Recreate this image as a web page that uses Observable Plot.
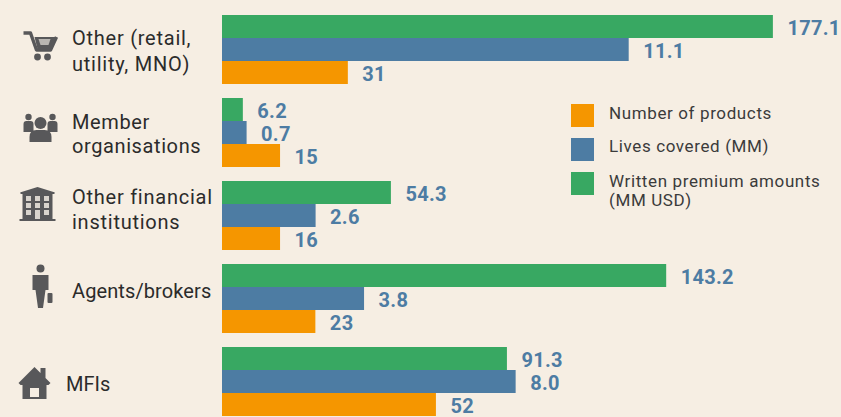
<!DOCTYPE html>
<html>
<head>
<meta charset="utf-8">
<script src="https://cdn.jsdelivr.net/npm/d3@7"></script>
<script src="https://cdn.jsdelivr.net/npm/@observablehq/plot@0.6"></script>
<style>
  html, body { margin: 0; padding: 0; background: #f6eee3; }
  #chart { position: relative; width: 841px; height: 417px; overflow: hidden; font-family: Roboto, sans-serif; }
  #chart svg { display: block; background: transparent; }
  .key { position: absolute; left: 571px; width: 23px; height: 23px; }
  .keytext { position: absolute; left: 609px; font-size: 17px; line-height: 19px; letter-spacing: .62px; color: #3b3b3b; white-space: nowrap; }
  .sp-value { letter-spacing: .3px; }
  .sp-a { letter-spacing: .75px; }
  .sp-b { letter-spacing: .6px; }
  .sp-c { letter-spacing: .75px; }
  .sp-d { letter-spacing: .1px; }
  .sp-e { letter-spacing: .05px; }
</style>
</head>
<body>
<div id="chart"></div>
<script>
const categories = ["Other (retail,\nutility, MNO)", "Member\norganisations", "Other financial\ninstitutions", "Agents/brokers", "MFIs"];
const seriesNames = ["Written premium amounts (MM USD)", "Lives covered (MM)", "Number of products"];
const seriesColors = ["#38a862", "#4d7ca3", "#f59600"];
const premiumLabels = ["177.1", "6.2", "54.3", "143.2", "91.3"];
const livesLabels = ["11.1", "0.7", "2.6", "3.8", "8.0"];
const productsLabels = ["31", "15", "16", "23", "52"];
// The source draws each series to its own scale and not quite to its printed value,
// so the bar lengths are read from the picture, per series.
const premium = [177.1, 6.7, 54.3, 142.8, 91.6];
const lives = [11.08, 0.67, 2.55, 3.87, 8.0];
const products = [31, 14.3, 14.3, 23, 52.7];
const livesToPremium = 11.8;
const productsToPremium = 1.305;

const rows = categories.flatMap((category, i) => [
  {category, series: seriesNames[0], length: premium[i], label: premiumLabels[i]},
  {category, series: seriesNames[1], length: lives[i] * livesToPremium, label: livesLabels[i]},
  {category, series: seriesNames[2], length: products[i] * productsToPremium, label: productsLabels[i]}
]);

const grey = "#58585a";
const svgIcon = body => "data:image/svg+xml," + encodeURIComponent(
  `<svg xmlns="http://www.w3.org/2000/svg" width="48" height="48" viewBox="0 0 48 48" fill="${grey}">${body}</svg>`);
const cart = svgIcon(`<path d="M7 11h7l6 17h14l6-13" fill="none" stroke="${grey}" stroke-width="3.400" stroke-linejoin="round"/><path d="M18 15h22l-5 12H21z" fill="${grey}"/><path d="M22 17h12l-2 6H24z" fill="#b9b6b2"/><circle cx="21" cy="35" r="3.400"/><circle cx="31" cy="35" r="3.400"/>`);
const people = svgIcon(`<circle cx="12" cy="14" r="3.200"/><circle cx="36" cy="14" r="3.200"/><path d="M7 29v-8q0-3 3-3h4q3 0 3 3v8zM31 29v-8q0-3 3-3h4q3 0 3 3v8z"/><circle cx="24" cy="20" r="6"/><path d="M13 39v-5q0-7 7-7h8q7 0 7 7v5z"/>`);
const bank = svgIcon(`<path d="M7 12h34v2H7zM8 12l16-5 16 5z"/><rect x="9" y="13" width="30" height="26"/><rect x="6" y="39" width="36" height="2"/><g fill="#d9d4cd"><rect x="12.500" y="16" width="5" height="5"/><rect x="21.500" y="16" width="5" height="5"/><rect x="30.500" y="16" width="5" height="5"/><rect x="12.500" y="23" width="5" height="5"/><rect x="21.500" y="23" width="5" height="5"/><rect x="30.500" y="23" width="5" height="5"/><rect x="12.500" y="30" width="5" height="5"/><rect x="21.500" y="30" width="5" height="9"/><rect x="30.500" y="30" width="5" height="5"/></g>`);
const agent = svgIcon(`<circle cx="24" cy="6.500" r="4"/><path d="M16 13h16v15h-3l-2.500 18h-5L19 28h-3z"/><rect x="31" y="31" width="5" height="10" rx="1"/>`);
const house = svgIcon(`<path d="M8 24 24 8l6 6V9h5v10l5 5-2 2H10z"/><path d="M12 25h24v15H12zM19.500 29v9h9v-9z" fill-rule="evenodd"/>`);
const icons = [
  {category: categories[0], src: cart, dx: -182, dy: -4},
  {category: categories[1], src: people, dx: -182, dy: -6},
  {category: categories[2], src: bank, dx: -185, dy: -12},
  {category: categories[3], src: agent, dx: -182, dy: -13},
  {category: categories[4], src: house, dx: -188, dy: 1}
];

const textMark = (names, options) => Plot.text(names, {fy: d => d, text: d => d, frameAnchor: "left", textAnchor: "start",
  fill: "#2b2b2b", fontSize: 20, ...options});

const plot = Plot.plot({
  width: 841,
  height: 417,
  marginLeft: 222,
  marginRight: 0,
  marginTop: 14,
  marginBottom: 1,
  style: {background: "transparent", fontFamily: "Roboto, sans-serif"},
  x: {domain: [0, 199], axis: null},
  y: {domain: seriesNames, padding: 0, axis: null},
  fy: {domain: categories, paddingInner: 0.171, paddingOuter: 0, axis: null},
  marks: [
    Plot.barX(rows, {fy: "category", y: "series", x: "length", fill: d => seriesColors[seriesNames.indexOf(d.series)]}),
    Plot.text(rows, {fy: "category", y: "series", x: "length", text: "label", textAnchor: "start", dx: 14, dy: 2,
      fill: "#4d7ca3", fontSize: 20, fontWeight: 700, className: "sp-value"}),
    textMark([categories[0]], {dx: -150.5, lineHeight: 1.3, className: "sp-a"}),
    textMark([categories[1]], {dx: -150.5, lineHeight: 1.22, className: "sp-b"}),
    textMark([categories[2]], {dx: -150.5, dy: -8, lineHeight: 1.25, className: "sp-c"}),
    textMark([categories[3]], {dx: -150.5, dy: -7, className: "sp-d"}),
    textMark([categories[4]], {dx: -156.5, dy: 3, className: "sp-e"}),
    ...icons.map(icon => Plot.image([icon], {fy: "category", src: "src", frameAnchor: "left", dx: icon.dx, dy: icon.dy, width: 48, height: 48}))
  ]
});

const chart = document.getElementById("chart");
chart.appendChild(plot);
const legend = [
  {name: "Number of products", color: seriesColors[2], top: 104, textTop: 104},
  {name: "Lives covered (MM)", color: seriesColors[1], top: 138, textTop: 137},
  {name: "Written premium amounts<br>(MM USD)", color: seriesColors[0], top: 172, textTop: 172}
];
for (const item of legend) {
  const swatch = document.createElement("div");
  swatch.className = "key";
  swatch.style.top = item.top + "px";
  swatch.style.background = item.color;
  chart.appendChild(swatch);
  const label = document.createElement("div");
  label.className = "keytext";
  label.style.top = item.textTop + "px";
  label.innerHTML = item.name;
  chart.appendChild(label);
}
</script>
</body>
</html>
